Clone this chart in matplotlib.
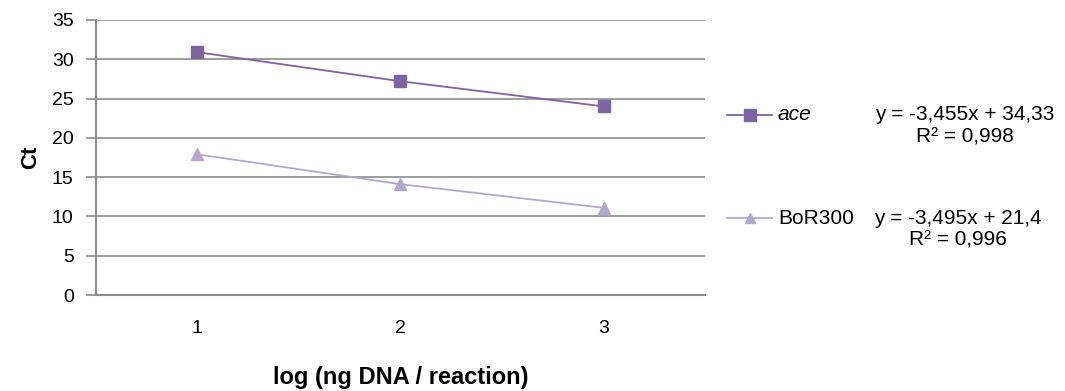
import matplotlib.pyplot as plt
from matplotlib.lines import Line2D

plt.rcParams['font.family'] = ['Liberation Sans', 'DejaVu Sans']

categories = ['1', '2', '3']
ace = [30.9, 27.2, 24.0]
bor300 = [17.9, 14.1, 11.1]
series_names = ['ace', 'BoR300']
eq_lines = ['y = -3,455x + 34,33', 'y = -3,495x + 21,4']
r2_lines = ['R² = 0,998', 'R² = 0,996']
y_ticks = [0, 5, 10, 15, 20, 25, 30, 35]

c_ace = '#7f63a1'
c_bor = '#b5a6cb'
grid_c = '#8c8c8c'

fig = plt.figure(figsize=(10.65, 3.91), dpi=100)
ax = fig.add_axes([0.090, 0.2455, 0.572, 0.7035])

x = range(len(categories))
ax.plot(x, ace, color=c_ace, marker='s', markersize=9, linewidth=1.3)
ax.plot(x, bor300, color=c_bor, marker='^', markersize=8, linewidth=1.3)

ax.set_xlim(-0.5, len(categories) - 0.5)
ax.set_ylim(0, 35)
ax.set_yticks(y_ticks)
ax.set_xticks(list(x))
ax.set_xticklabels(categories)
ax.yaxis.grid(True, color=grid_c, linewidth=1.2)
ax.set_axisbelow(True)
for s in ['top', 'right']:
    ax.spines[s].set_visible(False)
for s in ['left', 'bottom']:
    ax.spines[s].set_color(grid_c)
    ax.spines[s].set_linewidth(1.5)
ax.tick_params(axis='y', length=7, color=grid_c, width=1.2, labelsize=14, pad=9)
ax.tick_params(axis='x', length=0, labelsize=14, pad=18)

ax.set_ylabel('Ct', fontsize=16, fontweight='bold', labelpad=8)
ax.set_xlabel('log (ng DNA / reaction)', fontsize=17, fontweight='bold', labelpad=21)

# legend with trendline equations
W, H = 1065, 391
legend_rows = [(115, 965, c_ace, 's', 8, 'italic'), (218, 958, c_bor, '^', 7, 'normal')]
for (py, ex, col, mk, ms, style), name, eq, r2 in zip(legend_rows, series_names, eq_lines, r2_lines):
    fy = 1 - py / H
    fig.add_artist(Line2D([727 / W, 772 / W], [fy, fy], color=col, linewidth=1.3))
    fig.add_artist(Line2D([750 / W], [fy], color=col, marker=mk, markersize=ms))
    fig.text(778 / W, fy, name, fontsize=15, style=style, va='center', ha='left')
    fig.text(ex / W, fy, eq, fontsize=15, va='center', ha='center')
    fig.text(ex / W, fy - 22 / H, r2, fontsize=15, va='center', ha='center')

fig.savefig('out.png', dpi=100)
